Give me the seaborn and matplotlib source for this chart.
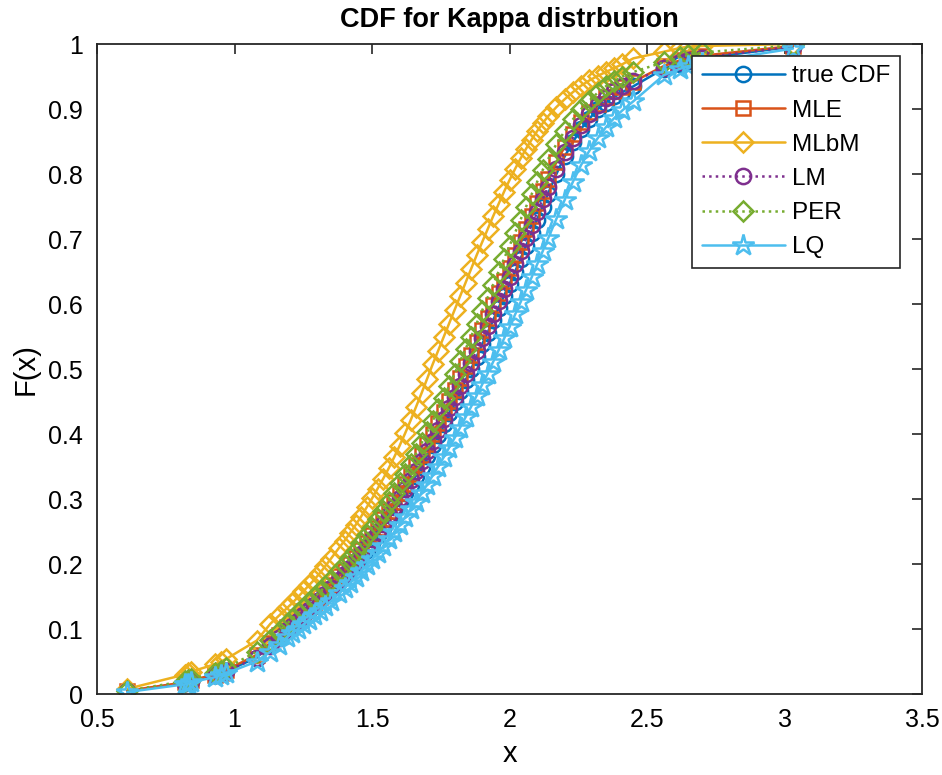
import matplotlib
matplotlib.use("Agg")
import matplotlib.pyplot as plt
from matplotlib.ticker import FuncFormatter
import seaborn as sns

# sorted sample points and fitted CDF values
x_sample = [0.61, 0.82, 0.83, 0.84, 0.93, 0.95, 0.97, 1.08, 1.13, 1.16, 1.19,
            1.21, 1.23, 1.25, 1.27, 1.29, 1.31, 1.33, 1.35, 1.38,
            1.40, 1.42, 1.44, 1.46, 1.48, 1.50, 1.52, 1.54, 1.56, 1.58,
            1.60, 1.62, 1.64, 1.66, 1.68, 1.70, 1.72, 1.74, 1.76, 1.78,
            1.80, 1.82, 1.84, 1.86, 1.88, 1.90, 1.92, 1.94, 1.96, 1.98,
            2.00, 2.02, 2.04, 2.06, 2.08, 2.10, 2.12, 2.14,
            2.17, 2.20, 2.23, 2.26, 2.29, 2.32, 2.35, 2.38, 2.41,
            2.45, 2.56, 2.62, 2.65, 2.70, 3.03]

cdf_true = [0.004, 0.017, 0.018, 0.020, 0.029, 0.032, 0.035, 0.056, 0.075, 0.087, 0.099,
            0.106, 0.114, 0.121, 0.129, 0.136, 0.144, 0.153, 0.161, 0.174,
            0.183, 0.191, 0.200, 0.211, 0.222, 0.233, 0.244, 0.256, 0.269, 0.282,
            0.295, 0.309, 0.322, 0.336, 0.350, 0.366, 0.383, 0.399, 0.415, 0.432,
            0.449, 0.466, 0.483, 0.500, 0.519, 0.538, 0.556, 0.575, 0.594, 0.613,
            0.631, 0.650, 0.670, 0.690, 0.710, 0.730, 0.750, 0.770,
            0.800, 0.827, 0.849, 0.870, 0.885, 0.900, 0.910, 0.920, 0.926,
            0.935, 0.962, 0.970, 0.974, 0.978, 0.996]

cdf_mle = [0.005, 0.018, 0.019, 0.021, 0.030, 0.033, 0.037, 0.060, 0.079, 0.091, 0.103,
           0.111, 0.119, 0.127, 0.135, 0.142, 0.150, 0.159, 0.168, 0.181,
           0.190, 0.200, 0.210, 0.221, 0.232, 0.244, 0.256, 0.269, 0.282, 0.295,
           0.309, 0.323, 0.338, 0.353, 0.368, 0.384, 0.400, 0.417, 0.434, 0.451,
           0.468, 0.486, 0.504, 0.522, 0.541, 0.560, 0.579, 0.598, 0.617, 0.636,
           0.655, 0.675, 0.695, 0.715, 0.735, 0.755, 0.774, 0.792,
           0.818, 0.842, 0.862, 0.880, 0.895, 0.908, 0.918, 0.927, 0.934,
           0.942, 0.966, 0.975, 0.978, 0.982, 0.997]

cdf_mlbm = [0.008, 0.030, 0.032, 0.034, 0.046, 0.050, 0.054, 0.082, 0.108, 0.120, 0.132,
            0.140, 0.149, 0.158, 0.167, 0.176, 0.186, 0.197, 0.208, 0.225,
            0.236, 0.248, 0.260, 0.273, 0.287, 0.301, 0.316, 0.331, 0.347, 0.364,
            0.382, 0.401, 0.421, 0.442, 0.463, 0.485, 0.507, 0.528, 0.549, 0.570,
            0.591, 0.612, 0.633, 0.654, 0.675, 0.695, 0.715, 0.735, 0.754, 0.773,
            0.791, 0.808, 0.824, 0.839, 0.853, 0.866, 0.878, 0.889,
            0.903, 0.915, 0.926, 0.936, 0.944, 0.951, 0.957, 0.963, 0.969,
            0.978, 0.988, 0.994, 0.996, 0.997, 1.000]

cdf_lm = [0.004, 0.017, 0.018, 0.020, 0.029, 0.032, 0.035, 0.056, 0.074, 0.086, 0.098,
          0.105, 0.113, 0.121, 0.129, 0.137, 0.145, 0.154, 0.163, 0.176,
          0.185, 0.194, 0.204, 0.215, 0.226, 0.238, 0.250, 0.262, 0.275, 0.288,
          0.301, 0.315, 0.329, 0.343, 0.358, 0.374, 0.390, 0.406, 0.423, 0.440,
          0.457, 0.474, 0.492, 0.510, 0.528, 0.547, 0.566, 0.585, 0.604, 0.623,
          0.642, 0.661, 0.681, 0.701, 0.721, 0.741, 0.761, 0.780,
          0.808, 0.834, 0.856, 0.876, 0.892, 0.906, 0.917, 0.927, 0.935,
          0.943, 0.963, 0.972, 0.975, 0.979, 0.996]

cdf_per = [0.005, 0.020, 0.021, 0.023, 0.033, 0.036, 0.040, 0.065, 0.083, 0.096, 0.108,
           0.116, 0.124, 0.132, 0.140, 0.149, 0.157, 0.166, 0.175, 0.189,
           0.199, 0.209, 0.220, 0.232, 0.244, 0.256, 0.269, 0.282, 0.296, 0.310,
           0.324, 0.339, 0.354, 0.370, 0.386, 0.403, 0.420, 0.438, 0.456, 0.474,
           0.493, 0.512, 0.531, 0.550, 0.570, 0.590, 0.610, 0.630, 0.650, 0.670,
           0.690, 0.710, 0.730, 0.750, 0.769, 0.788, 0.806, 0.823,
           0.846, 0.866, 0.884, 0.900, 0.913, 0.925, 0.935, 0.943, 0.950,
           0.957, 0.972, 0.980, 0.983, 0.987, 0.998]

cdf_lq = [0.003, 0.015, 0.016, 0.018, 0.026, 0.029, 0.032, 0.050, 0.065, 0.076, 0.087,
          0.094, 0.100, 0.107, 0.114, 0.121, 0.128, 0.135, 0.143, 0.155,
          0.163, 0.171, 0.180, 0.189, 0.198, 0.207, 0.217, 0.227, 0.238, 0.249,
          0.260, 0.272, 0.284, 0.296, 0.309, 0.322, 0.336, 0.350, 0.364, 0.379,
          0.394, 0.410, 0.426, 0.442, 0.459, 0.476, 0.493, 0.511, 0.529, 0.547,
          0.565, 0.584, 0.603, 0.622, 0.641, 0.661, 0.681, 0.701,
          0.731, 0.760, 0.788, 0.814, 0.836, 0.855, 0.872, 0.886, 0.898,
          0.912, 0.952, 0.962, 0.966, 0.971, 0.993]

series_labels = ["true CDF", "MLE", "MLbM", "LM", "PER", "LQ"]
x_ticks = [0.5, 1, 1.5, 2, 2.5, 3, 3.5]
y_ticks = [0, 0.1, 0.2, 0.3, 0.4, 0.5, 0.6, 0.7, 0.8, 0.9, 1]

# MATLAB default line colours
colors = ["#0072BD", "#D95319", "#EDB120", "#7E2F8E", "#77AC30", "#4DBEEE"]
markers = ["o", "s", "D", "o", "D", "*"]
msizes = [11, 9.5, 10, 11, 10, 16]
styles = ["-", "-", "-", ":", ":", "-"]

sns.set_style("white")
plt.rcParams["font.family"] = ["Liberation Sans", "DejaVu Sans"]

fig = plt.figure(figsize=(9.42, 7.75), dpi=100)
ax = fig.add_axes([0.103, 0.1045, 0.876, 0.8387])

all_series = [cdf_true, cdf_mle, cdf_mlbm, cdf_lm, cdf_per, cdf_lq]
for vals, lab, c, m, ms, ls in zip(all_series, series_labels, colors, markers, msizes, styles):
    sns.lineplot(x=x_sample, y=vals, ax=ax, color=c, marker=m, markersize=ms,
                 markerfacecolor="none", markeredgecolor=c, markeredgewidth=1.8,
                 linestyle=ls, linewidth=1.8, label=lab, sort=False)

ax.set_xlim(0.5, 3.5)
ax.set_ylim(0, 1)
ax.set_xticks(x_ticks)
ax.set_yticks(y_ticks)
fmt = FuncFormatter(lambda v, _: f"{v:g}")
ax.xaxis.set_major_formatter(fmt)
ax.yaxis.set_major_formatter(fmt)
ax.tick_params(direction="in", length=7, width=1.2, labelsize=18, color="#262626",
               labelcolor="black", top=True, right=True, pad=10)
for sp in ax.spines.values():
    sp.set_color("#262626")
    sp.set_linewidth(1.3)

ax.set_xlabel("x", fontsize=21, color="black", labelpad=6)
ax.set_ylabel("F(x)", fontsize=21, color="black", labelpad=6)
ax.set_title("CDF for Kappa distrbution", fontsize=19.5, fontweight="bold",
             color="black", pad=12)

leg = ax.legend(loc="upper right", bbox_to_anchor=(0.973, 0.982), fontsize=17.5,
                frameon=True, fancybox=False, edgecolor="#262626", framealpha=1,
                handlelength=3.4, handletextpad=0.3, labelspacing=0.5,
                borderpad=0.4, borderaxespad=0)
leg.get_frame().set_linewidth(1.2)
for t in leg.get_texts():
    t.set_color("black")

fig.savefig("out.png", dpi=100)
